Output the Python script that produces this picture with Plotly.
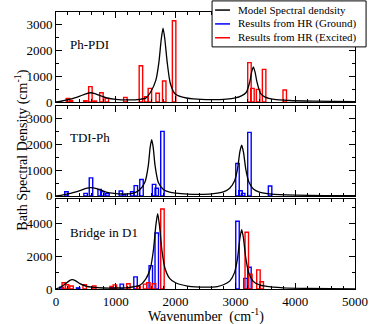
import plotly.graph_objects as go
from plotly.subplots import make_subplots

# model spectral density curves
top_curve_x = [0, 100, 200, 300, 400, 500, 580, 650, 750, 850, 1000, 1200, 1400, 1500, 1590, 1670,
               1720, 1760, 1790, 1820, 1860, 1910, 1990, 2100, 2300, 2600, 2850, 3000, 3100, 3180,
               3240, 3270, 3300, 3330, 3360, 3420, 3500, 3650, 3900, 4300, 5000]
top_curve_y = [0, 40, 90, 150, 230, 320, 360, 330, 240, 160, 100, 80, 100, 150, 420, 850,
               1530, 2440, 2870, 2440, 1530, 740, 320, 200, 120, 90, 110, 160, 240, 370,
               780, 1150, 1370, 1150, 780, 340, 190, 100, 60, 35, 15]

mid_curve_x = [0, 100, 200, 300, 400, 500, 585, 680, 800, 900, 1000, 1100, 1200, 1300, 1400,
               1488, 1544, 1574, 1600, 1626, 1656, 1712, 1800, 1900, 2000, 2200, 2400, 2600,
               2800, 2905, 2985, 3035, 3075, 3105, 3135, 3175, 3225, 3300, 3400, 3600, 4000,
               4500, 5000]
mid_curve_y = [0, 35, 80, 140, 210, 290, 320, 280, 180, 120, 90, 75, 80, 110, 240,
               540, 1190, 1880, 2190, 1880, 1190, 520, 240, 150, 110, 70, 60, 80,
               160, 300, 580, 1040, 1720, 1970, 1700, 1020, 540, 270, 150, 70, 30,
               15, 8]

bot_curve_x = [0, 80, 150, 220, 270, 330, 400, 500, 600, 800, 1000, 1200, 1400, 1500, 1580,
               1630, 1670, 1700, 1730, 1770, 1820, 1900, 2000, 2200, 2500, 2700, 2800, 2905,
               2985, 3035, 3075, 3105, 3135, 3175, 3225, 3300, 3400, 3500, 3800, 4200, 5000]
bot_curve_y = [0, 120, 300, 500, 570, 500, 330, 180, 110, 60, 60, 90, 220, 600, 1300,
               2400, 3900, 4600, 3900, 2400, 1300, 650, 380, 180, 110, 150, 260, 480,
               1000, 1850, 3100, 3620, 3100, 1850, 960, 460, 250, 170, 70, 35, 12]

# Huang-Rhys results
top_exc_x = [200, 250, 490, 575, 650, 760, 850, 1160, 1420, 1510, 1570, 1700, 1810, 1975,
             3235, 3285, 3380, 3480, 3825]
top_exc_y = [140, 60, 50, 600, 40, 360, 140, 180, 1410, 210, 530, 340, 820, 3160,
             1530, 530, 490, 1270, 470]

mid_gnd_x = [175, 495, 585, 730, 775, 860, 1085, 1140, 1275, 1335, 1430, 1640, 1685, 1780,
             3035, 3085, 3130, 3235, 3580]
mid_gnd_y = [165, 100, 700, 250, 170, 90, 190, 60, 165, 400, 640, 450, 300, 2510,
             1260, 200, 100, 2470, 385]

bot_gnd_x = [90, 370, 935, 1100, 1330, 1585, 1685, 3035, 3170, 3235]
bot_gnd_y = [110, 70, 70, 300, 740, 1430, 3420, 4140, 650, 1330]

bot_exc_x = [130, 185, 260, 480, 640, 930, 985, 1210, 1380, 1490, 1545, 1640, 1780,
             3190, 3250, 3385, 3440]
bot_exc_y = [380, 260, 180, 260, 180, 150, 250, 320, 150, 300, 380, 320, 4890,
             3470, 900, 1170, 440]

panel_names = ["Ph-PDI", "TDI-Ph", "Bridge in D1"]
legend_names = ["Model Spectral dendsity", "Results from HR (Ground)", "Results from HR (Excited)"]

FONT = "Liberation Serif"
BLUE = "#0000ff"
RED = "#ff0000"
legend_colors = ["black", BLUE, RED]


def bars(x, y, color):
    return go.Bar(x=x, y=y, width=58, base=0, showlegend=False,
                  marker=dict(color="rgba(0,0,0,0)", line=dict(color=color, width=1.4)))


def curve(x, y):
    return go.Scatter(x=x, y=y, mode="lines", showlegend=False,
                      line=dict(color="black", width=1.3, shape="spline", smoothing=0.6))


fig = make_subplots(rows=3, cols=1, shared_xaxes=True)

fig.add_trace(bars(top_exc_x, top_exc_y, RED), row=1, col=1)
fig.add_trace(curve(top_curve_x, top_curve_y), row=1, col=1)

fig.add_trace(bars(mid_gnd_x, mid_gnd_y, BLUE), row=2, col=1)
fig.add_trace(curve(mid_curve_x, mid_curve_y), row=2, col=1)

fig.add_trace(bars(bot_gnd_x, bot_gnd_y, BLUE), row=3, col=1)
fig.add_trace(bars(bot_exc_x, bot_exc_y, RED), row=3, col=1)
fig.add_trace(curve(bot_curve_x, bot_curve_y), row=3, col=1)

axis_style = dict(showline=True, linecolor="black", linewidth=1, mirror="ticks",
                  ticks="inside", ticklen=6, tickcolor="black", showgrid=False,
                  zeroline=False, tickfont=dict(family=FONT, size=13, color="black"))

fig.update_xaxes(range=[0, 5000], dtick=1000,
                 minor=dict(dtick=200, ticks="inside", ticklen=3, tickcolor="black"),
                 **axis_style)
fig.update_xaxes(showticklabels=False, row=1, col=1)
fig.update_xaxes(showticklabels=False, row=2, col=1)
fig.update_xaxes(showticklabels=True, row=3, col=1)

fig.update_yaxes(**axis_style)
fig.update_yaxes(range=[0, 3500], dtick=1000,
                 minor=dict(dtick=500, ticks="inside", ticklen=3, tickcolor="black"),
                 domain=[0.675, 1.0], row=1, col=1)
fig.update_yaxes(range=[0, 3500], dtick=1000,
                 minor=dict(dtick=500, ticks="inside", ticklen=3, tickcolor="black"),
                 domain=[0.336, 0.661], row=2, col=1)
fig.update_yaxes(range=[0, 5500], dtick=2000,
                 minor=dict(dtick=1000, ticks="inside", ticklen=3, tickcolor="black"),
                 domain=[0.0, 0.325], row=3, col=1)

label_y = [2250, 2270, 3450]
for i, (name, ly) in enumerate(zip(panel_names, label_y)):
    fig.add_annotation(x=200, y=ly, text=name, showarrow=False, xanchor="left",
                       xref="x" if i == 0 else f"x{i + 1}",
                       yref="y" if i == 0 else f"y{i + 1}",
                       font=dict(family=FONT, size=13, color="black"))

fig.add_annotation(x=-0.155, y=0.5, xref="paper", yref="paper", textangle=-90,
                   text="Bath Spectral Density (cm<sup>-1</sup>)", showarrow=False,
                   font=dict(family=FONT, size=14, color="black"))
fig.add_annotation(x=0.5, y=-0.097, xref="paper", yref="paper", yanchor="middle",
                   text="Wavenumber  (cm<sup>-1</sup>)", showarrow=False,
                   font=dict(family=FONT, size=14, color="black"))

# legend box, drawn by hand so it can be as compact as the original
fig.add_shape(type="rect", xref="paper", yref="paper", x0=0.522, x1=1.037, y0=0.874, y1=1.040,
              line=dict(color="black", width=1), fillcolor="white", layer="above")
for k, (name, color) in enumerate(zip(legend_names, legend_colors)):
    yy = 1.007 - 0.05 * k
    fig.add_shape(type="line", xref="paper", yref="paper", x0=0.532, x1=0.582, y0=yy, y1=yy,
                  line=dict(color=color, width=1.5), layer="above")
    fig.add_annotation(x=0.603, y=yy, xref="paper", yref="paper", xanchor="left",
                       yanchor="middle", text=name, showarrow=False,
                       font=dict(family=FONT, size=11, color="black"))

fig.update_layout(
    width=372, height=324,
    margin=dict(l=56, r=17, t=12, b=35, autoexpand=False),
    plot_bgcolor="white", paper_bgcolor="white",
    barmode="overlay",
    showlegend=False,
)

fig.write_html("out.html", config={"displayModeBar": False},
               post_script="document.body.style.margin = '0';")
